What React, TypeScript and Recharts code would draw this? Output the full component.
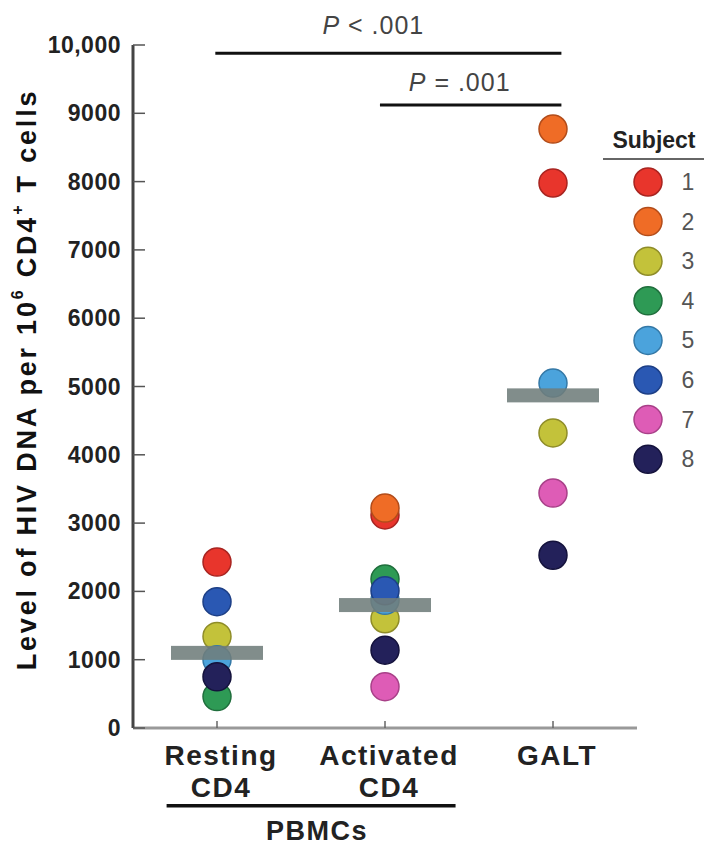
import React from 'react';
import {
  ScatterChart,
  Scatter,
  XAxis,
  YAxis,
  ReferenceLine,
  Legend,
} from 'recharts';

// Subjects 1-8, one value per compartment (null = no point shown)
const subjects = ['1', '2', '3', '4', '5', '6', '7', '8'];
const subjectColors = ['#e8352c', '#ef6c26', '#c3c23a', '#2e9a55', '#4ba3dc', '#2a58b3', '#de5cb6', '#23215a'];
const subjectEdges = ['#a82420', '#b24c1a', '#8e8c28', '#1f6e3c', '#3478a6', '#1d3f86', '#a84088', '#14123c'];

const restingCD4 = [2430, null, 1340, 460, 1000, 1850, null, 750];
const activatedCD4 = [3120, 3220, 1600, 2180, 1870, 2010, 605, 1140];
const galt = [7980, 8770, 4320, null, 5050, null, 3440, 2530];
const medians = [1100, 1800, 4870];

const categoryLines = [['Resting', 'CD4'], ['Activated', 'CD4'], ['GALT']];
const yTicks = [0, 1000, 2000, 3000, 4000, 5000, 6000, 7000, 8000, 9000, 10000];

const FONT = '"Liberation Sans", Arial, sans-serif';

const seriesFor = (i: number) =>
  [restingCD4[i], activatedCD4[i], galt[i]]
    .map((v, k) => ({ x: k + 1, y: v }))
    .filter((d) => d.y !== null);

const medianData = medians.map((m, k) => ({ x: k + 1, y: m }));

const YTick = (props: any) => {
  const { x, y, payload } = props;
  const label = payload.value === 10000 ? '10,000' : String(payload.value);
  return (
    <g>
      <line x1={x + 12} x2={x + 24} y1={y} y2={y} stroke="#555" strokeWidth={1.5} />
      <text x={x} y={y + 8} textAnchor="end" fontFamily={FONT} fontWeight="bold" fontSize={23} fill="#222" letterSpacing={0.5}>
        {label}
      </text>
    </g>
  );
};

const XTick = (props: any) => {
  const { x, y, payload } = props;
  const lines = categoryLines[payload.value - 1] || [];
  return (
    <g>
      <line x1={x} x2={x} y1={y} y2={y - 7} stroke="#666" strokeWidth={1.5} />
      {lines.map((t, k) => (
        <text key={k} x={x + 4} y={y + 37 + k * 32} textAnchor="middle" fontFamily={FONT} fontWeight="bold" fontSize={28} fill="#222" letterSpacing={1.5}>
          {t}
        </text>
      ))}
    </g>
  );
};

const YLabel = (props: any) => {
  const { viewBox } = props;
  const cx = viewBox.x - 46;
  const cy = viewBox.y + viewBox.height / 2 - 7;
  return (
    <text
      x={cx}
      y={cy}
      transform={`rotate(-90 ${cx} ${cy})`}
      textAnchor="middle"
      dominantBaseline="central"
      fontFamily={FONT}
      fontWeight="bold"
      fontSize={27}
      fill="#111"
      letterSpacing={2.8}
    >
      <tspan>Level of HIV DNA per 10</tspan>
      <tspan dy={-10} fontSize={16}>6</tspan>
      <tspan dy={10}> CD4</tspan>
      <tspan dy={-10} fontSize={16}>+</tspan>
      <tspan dy={10}> T cells</tspan>
    </text>
  );
};

const PLabel = (props: any) => {
  const { viewBox, sign, dx = 0, dy = 0 } = props;
  const cx = viewBox.x + viewBox.width / 2 + dx;
  return (
    <text x={cx} y={viewBox.y - dy} textAnchor="middle" fontFamily={FONT} fontSize={25} fill="#444" letterSpacing={1}>
      <tspan fontStyle="italic">P</tspan>
      <tspan>{` ${sign} .001`}</tspan>
    </text>
  );
};

const GroupLabel = (props: any) => {
  const { viewBox } = props;
  return (
    <text x={viewBox.x + viewBox.width / 2 + 6} y={viewBox.y + 34} textAnchor="middle" fontFamily={FONT} fontWeight="bold" fontSize={27} fill="#222" letterSpacing={1.5}>
      PBMCs
    </text>
  );
};

const SubjectLegend = (props: any) => {
  const items = (props.payload || []).filter((e: any) => e.type !== 'none');
  return (
    <svg width={104} height={370}>
      <text x={54} y={30} textAnchor="middle" fontFamily={FONT} fontWeight="bold" fontSize={23} fill="#222">
        Subject
      </text>
      <line x1={3} x2={104} y1={41} y2={41} stroke="#666" strokeWidth={2} />
      {items.map((e: any, k: number) => (
        <g key={k}>
          <circle cx={48} cy={64 + k * 39.6} r={14} fill={e.color} stroke={subjectEdges[k]} strokeWidth={1.5} />
          <text x={88} y={64 + k * 39.6 + 8} textAnchor="middle" fontFamily={FONT} fontSize={23} fill="#555">
            {e.value}
          </text>
        </g>
      ))}
    </svg>
  );
};

export default function App() {
  return (
    <div style={{ position: 'absolute', left: 0, top: 0, width: 704, height: 847, background: '#fff' }}>
      <ScatterChart width={704} height={847} margin={{ top: 45, right: 67, bottom: 59, left: 73 }}>
        <XAxis
          type="number"
          dataKey="x"
          domain={[0.5, 3.5]}
          ticks={[1, 2, 3]}
          height={60}
          tickSize={0}
          tickMargin={0}
          tick={<XTick />}
          axisLine={{ stroke: '#999', strokeWidth: 3 }}
          allowDataOverflow
        />
        <YAxis
          type="number"
          dataKey="y"
          domain={[0, 10000]}
          ticks={yTicks}
          width={60}
          tickSize={0}
          tickMargin={12}
          tick={<YTick />}
          axisLine={{ stroke: '#444', strokeWidth: 3 }}
          interval={0}
          label={<YLabel />}
        />
        <ReferenceLine
          segment={[{ x: 0.99, y: 9880 }, { x: 3.05, y: 9880 }]}
          stroke="#111"
          strokeWidth={3}
          ifOverflow="visible"
          label={<PLabel sign="<" dx={-15} dy={19} />}
        />
        <ReferenceLine
          segment={[{ x: 1.97, y: 9120 }, { x: 3.05, y: 9120 }]}
          stroke="#111"
          strokeWidth={3}
          ifOverflow="visible"
          label={<PLabel sign="=" dx={-11} dy={14} />}
        />
        <ReferenceLine
          segment={[{ x: 0.7, y: -1140 }, { x: 2.42, y: -1140 }]}
          stroke="#111"
          strokeWidth={3.5}
          ifOverflow="visible"
          label={<GroupLabel />}
        />
        {subjects.map((s, i) => (
          <Scatter
            key={s}
            name={s}
            data={seriesFor(i)}
            fill={subjectColors[i]}
            isAnimationActive={false}
            shape={(p: any) => (
              <circle cx={p.cx} cy={p.cy} r={14} fill={subjectColors[i]} stroke={subjectEdges[i]} strokeWidth={1.5} />
            )}
          />
        ))}
        <Scatter
          name="median"
          data={medianData}
          fill="#6f7d7b"
          legendType="none"
          isAnimationActive={false}
          shape={(p: any) => (
            <rect x={p.cx - 46} y={p.cy - 7} width={92} height={14} fill="#6f7d7b" fillOpacity={0.88} />
          )}
        />
        <Legend
          layout="vertical"
          align="center"
          verticalAlign="middle"
          content={<SubjectLegend />}
          wrapperStyle={{ position: 'absolute', left: 600, top: 118, width: 104, height: 370 }}
        />
      </ScatterChart>
    </div>
  );
}
